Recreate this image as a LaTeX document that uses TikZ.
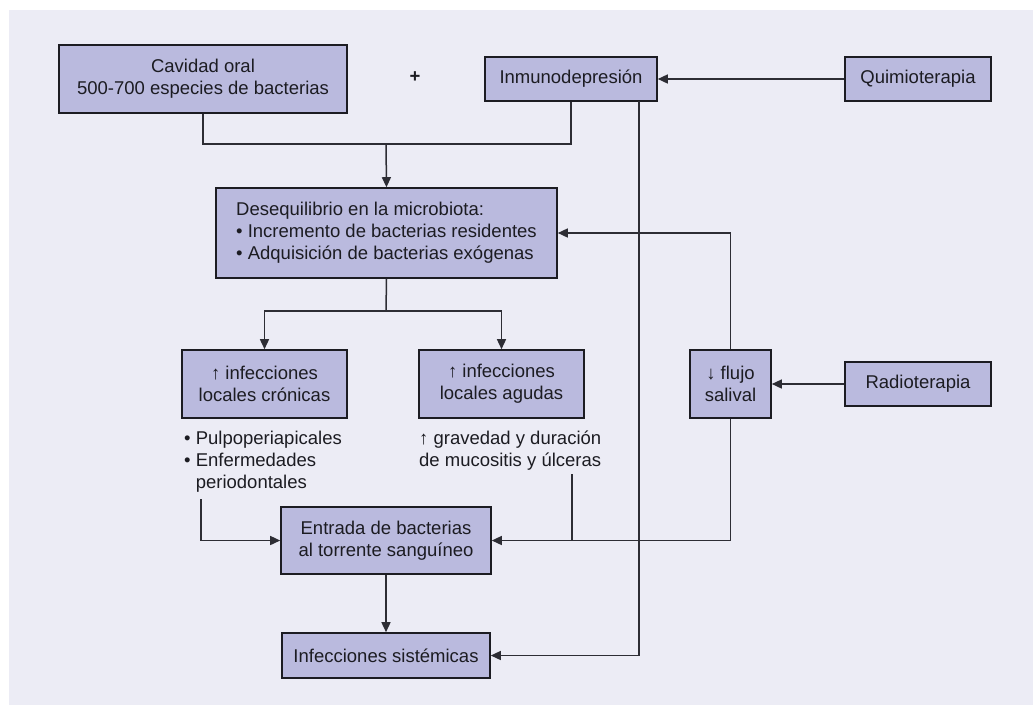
\documentclass[tikz,border=0pt]{standalone}
\usepackage{fontspec}
\setmainfont{Liberation Sans}
\usetikzlibrary{arrows.meta}
\definecolor{bg}{RGB}{236,236,245}
\definecolor{boxfill}{RGB}{186,186,222}
\definecolor{ink}{RGB}{28,28,34}
\definecolor{wire}{RGB}{45,45,52}
\begin{document}
\begin{tikzpicture}[x=1pt,y=-1pt,
  every node/.style={font=\fontsize{18.5}{22}\selectfont, text=ink},
  box/.style={draw=ink, line width=1.6pt, fill=boxfill, inner sep=0pt, align=center},
  note/.style={inner sep=0pt, align=left, anchor=north west},
  wire/.style={draw=wire, line width=1.5pt},
  arr/.style={wire, -{Triangle[length=10pt,width=9pt]}}]
\useasboundingbox (0,0) rectangle (1033,705);
\fill[bg] (9,10) rectangle (1033,705);

% boxes
\node[box, minimum width=288pt, minimum height=68pt] (cav) at (203,79)
  {Cavidad oral\\500-700 especies de bacterias};
\node (plus) at (415,77) {\textbf{+}};
\node[box, minimum width=172pt, minimum height=44pt] (inm) at (571,79) {Inmunodepresión};
\node[box, minimum width=146pt, minimum height=44pt] (qui) at (918,79) {Quimioterapia};
\node[box, minimum width=341pt, minimum height=90pt, align=left] (des) at (386.5,233)
  {Desequilibrio en la microbiota:\\• Incremento de bacterias residentes\\• Adquisición de bacterias exógenas};
\node[box, minimum width=165pt, minimum height=68pt] (cro) at (264.5,384)
  {↑ infecciones\\locales crónicas};
\node[box, minimum width=165pt, minimum height=68pt] (agu) at (501.5,384)
  {↑ infecciones\\locales agudas};
\node[box, minimum width=81pt, minimum height=68pt] (flu) at (730.5,384)
  {↓ flujo\\salival};
\node[box, minimum width=146pt, minimum height=44pt] (rad) at (918,384) {Radioterapia};
\node[box, minimum width=210pt, minimum height=67pt] (ent) at (386,540.5)
  {Entrada de bacterias\\al torrente sanguíneo};
\node[box, minimum width=208pt, minimum height=45pt] (sis) at (386,655.5)
  {Infecciones sistémicas};

% notes under the local infection boxes
\node[note] (cnote) at (184,431)
  {• Pulpoperiapicales\\• Enfermedades\\\phantom{• }periodontales};
\node[note] (anote) at (419,431)
  {↑ gravedad y duración\\de mucositis y úlceras};

% junctions and free ends
\coordinate (j1) at (386,144);
\coordinate (j2) at (386,311);
\coordinate (c1) at (201,499);
\coordinate (a1) at (572,474);
\coordinate (i1) at (639,101);

% connectors
\draw[wire] (cav.south) |- (j1);
\draw[wire] (inm.south) |- (j1);
\draw[arr] (j1) -- (des.north);
\draw[arr] (qui.west) -- (inm.east);
\draw[arr] (i1) |- (sis.east);
\draw[wire] (des.south) -- (j2);
\draw[arr] (j2) -| (cro.north);
\draw[arr] (j2) -| (agu.north);
\draw[arr] (flu.north) |- (des.east);
\draw[arr] (rad.west) -- (flu.east);
\draw[arr] (c1) |- (ent.west);
\draw[arr] (flu.south) |- (ent.east);
\draw[wire] (a1) -- (a1 |- ent.east);
\draw[arr] (ent.south) -- (sis.north);
\end{tikzpicture}
\end{document}
